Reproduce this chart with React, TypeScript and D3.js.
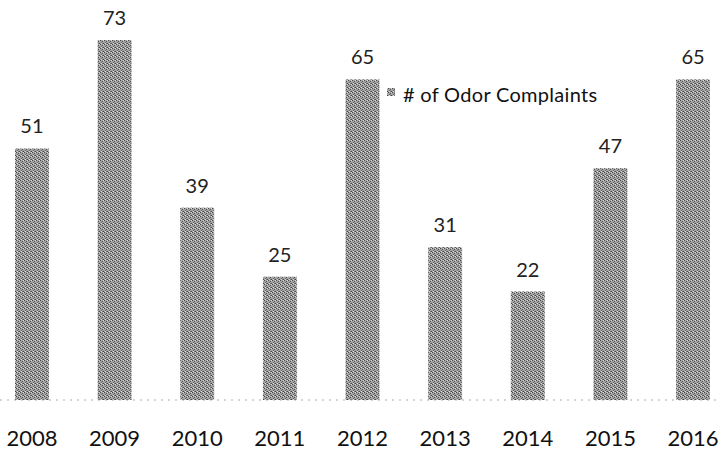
import React from "react";
import { scaleBand, scaleLinear } from "d3";

const years = ["2008", "2009", "2010", "2011", "2012", "2013", "2014", "2015", "2016"];
const complaints = [51, 73, 39, 25, 65, 31, 22, 47, 65];
const seriesName = "# of Odor Complaints";

const width = 720;
const height = 451;
const baseY = 400;
const font = "Lato, 'Open Sans', sans-serif";

function App() {
  const x = scaleBand<string>()
    .domain(years)
    .range([15, 710])
    .paddingInner(0.59)
    .paddingOuter(0);

  const y = scaleLinear().domain([0, 73]).range([baseY, 40]);

  return (
    <svg width={width} height={height} style={{ position: "absolute", left: 0, top: 0 }}>
      <defs>
        <pattern id="dither" width="4" height="4" patternUnits="userSpaceOnUse">
          <rect width="4" height="4" fill="#a4a4a4" />
          <rect x="0" y="0" width="1" height="1" fill="#444" />
          <rect x="2" y="1" width="1" height="1" fill="#555" />
          <rect x="1" y="2" width="1" height="1" fill="#666" />
          <rect x="3" y="3" width="1" height="1" fill="#444" />
          <rect x="2" y="3" width="1" height="1" fill="#777" />
          <rect x="3" y="0" width="1" height="1" fill="#d8d8d8" />
          <rect x="1" y="3" width="1" height="1" fill="#dadada" />
        </pattern>
      </defs>
      <rect width={width} height={height} fill="#fff" />

      {/* bars */}
      {years.map((yr, i) => (
        <rect
          key={yr}
          x={x(yr)}
          y={y(complaints[i])}
          width={x.bandwidth()}
          height={baseY - y(complaints[i])}
          fill="url(#dither)"
        />
      ))}

      {/* baseline */}
      <line x1={0} x2={width} y1={baseY} y2={baseY} stroke="#aaa" strokeDasharray="2,5" />

      {/* value labels */}
      {years.map((yr, i) => (
        <text
          key={yr}
          x={(x(yr) as number) + x.bandwidth() / 2}
          y={y(complaints[i]) - 15}
          textAnchor="middle"
          fontFamily={font}
          fontSize={20}
          fill="#222"
        >
          {complaints[i]}
        </text>
      ))}

      {/* year labels */}
      {years.map((yr) => (
        <text
          key={yr}
          x={(x(yr) as number) + x.bandwidth() / 2}
          y={446}
          textAnchor="middle"
          fontFamily={font}
          fontSize={22}
          fill="#111"
        >
          {yr}
        </text>
      ))}

      {/* legend */}
      <rect x={387} y={88} width={8} height={8} fill="url(#dither)" />
      <text x={403} y={102} fontFamily={font} fontSize={20} letterSpacing={0.3} fill="#111">
        {seriesName}
      </text>
    </svg>
  );
}

export default App;
